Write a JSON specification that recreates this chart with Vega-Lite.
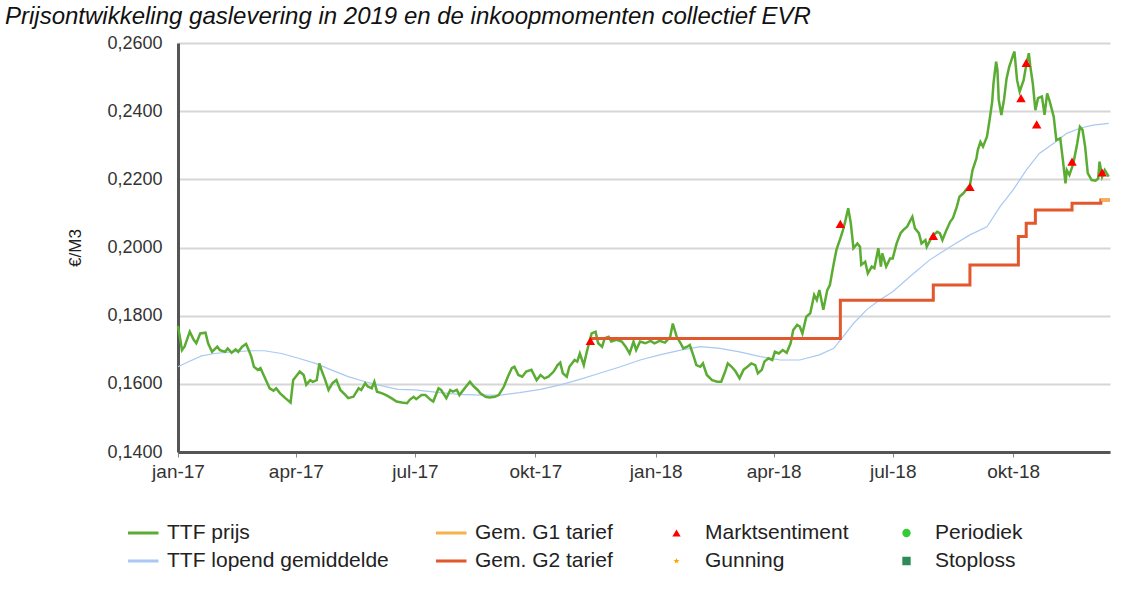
{
"$schema": "https://vega.github.io/schema/vega-lite/v6.json",
"autosize": {"type": "none"},
"padding": {"left": 178, "top": 43, "right": 19, "bottom": 142},
"width": 932,
"height": 409,
"background": "white",
"title": {"text": "Prijsontwikkeling gaslevering in 2019 en de inkoopmomenten collectief EVR", "anchor": "start", "frame": "group", "dx": -173, "dy": 26, "offset": 12, "baseline": "alphabetic", "font": "Liberation Sans", "fontSize": 24, "fontStyle": "italic", "fontWeight": "normal", "color": "#111"},
"config": {"view": {"stroke": null}, "font": "Liberation Sans"},
"data": {"values": [
{"series":"TTF prijs","date":"2017-01-01","value":0.1770},
{"series":"TTF prijs","date":"2017-01-03","value":0.1724},
{"series":"TTF prijs","date":"2017-01-04","value":0.1699},
{"series":"TTF prijs","date":"2017-01-06","value":0.1709},
{"series":"TTF prijs","date":"2017-01-10","value":0.1753},
{"series":"TTF prijs","date":"2017-01-13","value":0.1729},
{"series":"TTF prijs","date":"2017-01-15","value":0.1719},
{"series":"TTF prijs","date":"2017-01-18","value":0.1748},
{"series":"TTF prijs","date":"2017-01-22","value":0.1750},
{"series":"TTF prijs","date":"2017-01-24","value":0.1719},
{"series":"TTF prijs","date":"2017-01-27","value":0.1694},
{"series":"TTF prijs","date":"2017-01-31","value":0.1709},
{"series":"TTF prijs","date":"2017-02-02","value":0.1699},
{"series":"TTF prijs","date":"2017-02-06","value":0.1694},
{"series":"TTF prijs","date":"2017-02-08","value":0.1704},
{"series":"TTF prijs","date":"2017-02-11","value":0.1691},
{"series":"TTF prijs","date":"2017-02-14","value":0.1701},
{"series":"TTF prijs","date":"2017-02-16","value":0.1694},
{"series":"TTF prijs","date":"2017-02-19","value":0.1709},
{"series":"TTF prijs","date":"2017-02-22","value":0.1717},
{"series":"TTF prijs","date":"2017-02-24","value":0.1699},
{"series":"TTF prijs","date":"2017-02-26","value":0.1680},
{"series":"TTF prijs","date":"2017-02-28","value":0.1650},
{"series":"TTF prijs","date":"2017-03-03","value":0.1641},
{"series":"TTF prijs","date":"2017-03-05","value":0.1646},
{"series":"TTF prijs","date":"2017-03-08","value":0.1621},
{"series":"TTF prijs","date":"2017-03-12","value":0.1587},
{"series":"TTF prijs","date":"2017-03-15","value":0.1580},
{"series":"TTF prijs","date":"2017-03-17","value":0.1587},
{"series":"TTF prijs","date":"2017-03-20","value":0.1572},
{"series":"TTF prijs","date":"2017-03-24","value":0.1558},
{"series":"TTF prijs","date":"2017-03-28","value":0.1545},
{"series":"TTF prijs","date":"2017-03-30","value":0.1611},
{"series":"TTF prijs","date":"2017-04-02","value":0.1626},
{"series":"TTF prijs","date":"2017-04-04","value":0.1636},
{"series":"TTF prijs","date":"2017-04-07","value":0.1626},
{"series":"TTF prijs","date":"2017-04-09","value":0.1597},
{"series":"TTF prijs","date":"2017-04-12","value":0.1611},
{"series":"TTF prijs","date":"2017-04-14","value":0.1606},
{"series":"TTF prijs","date":"2017-04-17","value":0.1611},
{"series":"TTF prijs","date":"2017-04-19","value":0.1660},
{"series":"TTF prijs","date":"2017-04-21","value":0.1636},
{"series":"TTF prijs","date":"2017-04-23","value":0.1616},
{"series":"TTF prijs","date":"2017-04-26","value":0.1582},
{"series":"TTF prijs","date":"2017-04-29","value":0.1602},
{"series":"TTF prijs","date":"2017-05-02","value":0.1611},
{"series":"TTF prijs","date":"2017-05-05","value":0.1582},
{"series":"TTF prijs","date":"2017-05-09","value":0.1567},
{"series":"TTF prijs","date":"2017-05-11","value":0.1558},
{"series":"TTF prijs","date":"2017-05-15","value":0.1562},
{"series":"TTF prijs","date":"2017-05-19","value":0.1587},
{"series":"TTF prijs","date":"2017-05-21","value":0.1582},
{"series":"TTF prijs","date":"2017-05-24","value":0.1602},
{"series":"TTF prijs","date":"2017-05-26","value":0.1592},
{"series":"TTF prijs","date":"2017-05-29","value":0.1587},
{"series":"TTF prijs","date":"2017-05-31","value":0.1606},
{"series":"TTF prijs","date":"2017-06-02","value":0.1577},
{"series":"TTF prijs","date":"2017-06-06","value":0.1572},
{"series":"TTF prijs","date":"2017-06-09","value":0.1567},
{"series":"TTF prijs","date":"2017-06-13","value":0.1558},
{"series":"TTF prijs","date":"2017-06-17","value":0.1548},
{"series":"TTF prijs","date":"2017-06-21","value":0.1545},
{"series":"TTF prijs","date":"2017-06-25","value":0.1543},
{"series":"TTF prijs","date":"2017-06-27","value":0.1553},
{"series":"TTF prijs","date":"2017-06-30","value":0.1562},
{"series":"TTF prijs","date":"2017-07-02","value":0.1555},
{"series":"TTF prijs","date":"2017-07-06","value":0.1567},
{"series":"TTF prijs","date":"2017-07-09","value":0.1567},
{"series":"TTF prijs","date":"2017-07-13","value":0.1553},
{"series":"TTF prijs","date":"2017-07-15","value":0.1548},
{"series":"TTF prijs","date":"2017-07-19","value":0.1587},
{"series":"TTF prijs","date":"2017-07-21","value":0.1582},
{"series":"TTF prijs","date":"2017-07-25","value":0.1558},
{"series":"TTF prijs","date":"2017-07-28","value":0.1582},
{"series":"TTF prijs","date":"2017-07-30","value":0.1577},
{"series":"TTF prijs","date":"2017-08-02","value":0.1582},
{"series":"TTF prijs","date":"2017-08-04","value":0.1567},
{"series":"TTF prijs","date":"2017-08-08","value":0.1587},
{"series":"TTF prijs","date":"2017-08-12","value":0.1606},
{"series":"TTF prijs","date":"2017-08-15","value":0.1592},
{"series":"TTF prijs","date":"2017-08-18","value":0.1582},
{"series":"TTF prijs","date":"2017-08-20","value":0.1572},
{"series":"TTF prijs","date":"2017-08-24","value":0.1562},
{"series":"TTF prijs","date":"2017-08-27","value":0.1560},
{"series":"TTF prijs","date":"2017-08-31","value":0.1562},
{"series":"TTF prijs","date":"2017-09-03","value":0.1567},
{"series":"TTF prijs","date":"2017-09-07","value":0.1592},
{"series":"TTF prijs","date":"2017-09-10","value":0.1621},
{"series":"TTF prijs","date":"2017-09-13","value":0.1646},
{"series":"TTF prijs","date":"2017-09-15","value":0.1650},
{"series":"TTF prijs","date":"2017-09-18","value":0.1626},
{"series":"TTF prijs","date":"2017-09-21","value":0.1621},
{"series":"TTF prijs","date":"2017-09-24","value":0.1636},
{"series":"TTF prijs","date":"2017-09-28","value":0.1641},
{"series":"TTF prijs","date":"2017-10-02","value":0.1611},
{"series":"TTF prijs","date":"2017-10-05","value":0.1626},
{"series":"TTF prijs","date":"2017-10-08","value":0.1616},
{"series":"TTF prijs","date":"2017-10-11","value":0.1621},
{"series":"TTF prijs","date":"2017-10-15","value":0.1636},
{"series":"TTF prijs","date":"2017-10-18","value":0.1655},
{"series":"TTF prijs","date":"2017-10-20","value":0.1662},
{"series":"TTF prijs","date":"2017-10-22","value":0.1631},
{"series":"TTF prijs","date":"2017-10-25","value":0.1621},
{"series":"TTF prijs","date":"2017-10-27","value":0.1650},
{"series":"TTF prijs","date":"2017-10-31","value":0.1670},
{"series":"TTF prijs","date":"2017-11-02","value":0.1665},
{"series":"TTF prijs","date":"2017-11-04","value":0.1689},
{"series":"TTF prijs","date":"2017-11-07","value":0.1655},
{"series":"TTF prijs","date":"2017-11-09","value":0.1689},
{"series":"TTF prijs","date":"2017-11-11","value":0.1719},
{"series":"TTF prijs","date":"2017-11-13","value":0.1748},
{"series":"TTF prijs","date":"2017-11-16","value":0.1753},
{"series":"TTF prijs","date":"2017-11-18","value":0.1719},
{"series":"TTF prijs","date":"2017-11-21","value":0.1709},
{"series":"TTF prijs","date":"2017-11-23","value":0.1734},
{"series":"TTF prijs","date":"2017-11-26","value":0.1738},
{"series":"TTF prijs","date":"2017-11-28","value":0.1724},
{"series":"TTF prijs","date":"2017-12-02","value":0.1729},
{"series":"TTF prijs","date":"2017-12-06","value":0.1724},
{"series":"TTF prijs","date":"2017-12-09","value":0.1709},
{"series":"TTF prijs","date":"2017-12-12","value":0.1689},
{"series":"TTF prijs","date":"2017-12-15","value":0.1724},
{"series":"TTF prijs","date":"2017-12-17","value":0.1699},
{"series":"TTF prijs","date":"2017-12-20","value":0.1724},
{"series":"TTF prijs","date":"2017-12-24","value":0.1719},
{"series":"TTF prijs","date":"2017-12-28","value":0.1726},
{"series":"TTF prijs","date":"2017-12-31","value":0.1719},
{"series":"TTF prijs","date":"2018-01-04","value":0.1726},
{"series":"TTF prijs","date":"2018-01-08","value":0.1721},
{"series":"TTF prijs","date":"2018-01-12","value":0.1738},
{"series":"TTF prijs","date":"2018-01-14","value":0.1777},
{"series":"TTF prijs","date":"2018-01-17","value":0.1738},
{"series":"TTF prijs","date":"2018-01-20","value":0.1719},
{"series":"TTF prijs","date":"2018-01-22","value":0.1704},
{"series":"TTF prijs","date":"2018-01-25","value":0.1709},
{"series":"TTF prijs","date":"2018-01-27","value":0.1714},
{"series":"TTF prijs","date":"2018-01-30","value":0.1680},
{"series":"TTF prijs","date":"2018-02-01","value":0.1655},
{"series":"TTF prijs","date":"2018-02-04","value":0.1650},
{"series":"TTF prijs","date":"2018-02-06","value":0.1660},
{"series":"TTF prijs","date":"2018-02-09","value":0.1626},
{"series":"TTF prijs","date":"2018-02-13","value":0.1611},
{"series":"TTF prijs","date":"2018-02-17","value":0.1606},
{"series":"TTF prijs","date":"2018-02-20","value":0.1606},
{"series":"TTF prijs","date":"2018-02-23","value":0.1636},
{"series":"TTF prijs","date":"2018-02-25","value":0.1660},
{"series":"TTF prijs","date":"2018-02-28","value":0.1650},
{"series":"TTF prijs","date":"2018-03-03","value":0.1636},
{"series":"TTF prijs","date":"2018-03-06","value":0.1616},
{"series":"TTF prijs","date":"2018-03-09","value":0.1641},
{"series":"TTF prijs","date":"2018-03-12","value":0.1650},
{"series":"TTF prijs","date":"2018-03-15","value":0.1660},
{"series":"TTF prijs","date":"2018-03-18","value":0.1655},
{"series":"TTF prijs","date":"2018-03-20","value":0.1631},
{"series":"TTF prijs","date":"2018-03-23","value":0.1641},
{"series":"TTF prijs","date":"2018-03-25","value":0.1665},
{"series":"TTF prijs","date":"2018-03-28","value":0.1675},
{"series":"TTF prijs","date":"2018-03-31","value":0.1670},
{"series":"TTF prijs","date":"2018-04-02","value":0.1694},
{"series":"TTF prijs","date":"2018-04-05","value":0.1689},
{"series":"TTF prijs","date":"2018-04-08","value":0.1699},
{"series":"TTF prijs","date":"2018-04-11","value":0.1691},
{"series":"TTF prijs","date":"2018-04-14","value":0.1719},
{"series":"TTF prijs","date":"2018-04-16","value":0.1758},
{"series":"TTF prijs","date":"2018-04-19","value":0.1773},
{"series":"TTF prijs","date":"2018-04-21","value":0.1768},
{"series":"TTF prijs","date":"2018-04-23","value":0.1748},
{"series":"TTF prijs","date":"2018-04-26","value":0.1797},
{"series":"TTF prijs","date":"2018-04-29","value":0.1807},
{"series":"TTF prijs","date":"2018-05-02","value":0.1861},
{"series":"TTF prijs","date":"2018-05-04","value":0.1846},
{"series":"TTF prijs","date":"2018-05-06","value":0.1875},
{"series":"TTF prijs","date":"2018-05-09","value":0.1817},
{"series":"TTF prijs","date":"2018-05-12","value":0.1875},
{"series":"TTF prijs","date":"2018-05-14","value":0.1890},
{"series":"TTF prijs","date":"2018-05-17","value":0.1954},
{"series":"TTF prijs","date":"2018-05-19","value":0.1993},
{"series":"TTF prijs","date":"2018-05-22","value":0.2027},
{"series":"TTF prijs","date":"2018-05-24","value":0.2051},
{"series":"TTF prijs","date":"2018-05-26","value":0.2081},
{"series":"TTF prijs","date":"2018-05-28","value":0.2115},
{"series":"TTF prijs","date":"2018-05-30","value":0.2071},
{"series":"TTF prijs","date":"2018-06-01","value":0.1998},
{"series":"TTF prijs","date":"2018-06-04","value":0.2012},
{"series":"TTF prijs","date":"2018-06-06","value":0.2002},
{"series":"TTF prijs","date":"2018-06-07","value":0.1949},
{"series":"TTF prijs","date":"2018-06-10","value":0.1958},
{"series":"TTF prijs","date":"2018-06-12","value":0.1924},
{"series":"TTF prijs","date":"2018-06-15","value":0.1944},
{"series":"TTF prijs","date":"2018-06-17","value":0.1939},
{"series":"TTF prijs","date":"2018-06-20","value":0.1998},
{"series":"TTF prijs","date":"2018-06-22","value":0.1944},
{"series":"TTF prijs","date":"2018-06-23","value":0.1983},
{"series":"TTF prijs","date":"2018-06-26","value":0.1944},
{"series":"TTF prijs","date":"2018-06-29","value":0.1968},
{"series":"TTF prijs","date":"2018-07-01","value":0.1968},
{"series":"TTF prijs","date":"2018-07-04","value":0.2012},
{"series":"TTF prijs","date":"2018-07-07","value":0.2042},
{"series":"TTF prijs","date":"2018-07-09","value":0.2051},
{"series":"TTF prijs","date":"2018-07-12","value":0.2061},
{"series":"TTF prijs","date":"2018-07-14","value":0.2076},
{"series":"TTF prijs","date":"2018-07-16","value":0.2090},
{"series":"TTF prijs","date":"2018-07-18","value":0.2056},
{"series":"TTF prijs","date":"2018-07-21","value":0.2042},
{"series":"TTF prijs","date":"2018-07-23","value":0.2012},
{"series":"TTF prijs","date":"2018-07-26","value":0.2022},
{"series":"TTF prijs","date":"2018-07-27","value":0.2002},
{"series":"TTF prijs","date":"2018-07-31","value":0.2032},
{"series":"TTF prijs","date":"2018-08-04","value":0.2046},
{"series":"TTF prijs","date":"2018-08-06","value":0.2042},
{"series":"TTF prijs","date":"2018-08-08","value":0.2022},
{"series":"TTF prijs","date":"2018-08-11","value":0.2051},
{"series":"TTF prijs","date":"2018-08-14","value":0.2076},
{"series":"TTF prijs","date":"2018-08-16","value":0.2086},
{"series":"TTF prijs","date":"2018-08-19","value":0.2120},
{"series":"TTF prijs","date":"2018-08-21","value":0.2149},
{"series":"TTF prijs","date":"2018-08-24","value":0.2159},
{"series":"TTF prijs","date":"2018-08-26","value":0.2169},
{"series":"TTF prijs","date":"2018-08-29","value":0.2183},
{"series":"TTF prijs","date":"2018-08-31","value":0.2227},
{"series":"TTF prijs","date":"2018-09-03","value":0.2262},
{"series":"TTF prijs","date":"2018-09-04","value":0.2286},
{"series":"TTF prijs","date":"2018-09-06","value":0.2310},
{"series":"TTF prijs","date":"2018-09-08","value":0.2296},
{"series":"TTF prijs","date":"2018-09-11","value":0.2325},
{"series":"TTF prijs","date":"2018-09-13","value":0.2374},
{"series":"TTF prijs","date":"2018-09-15","value":0.2428},
{"series":"TTF prijs","date":"2018-09-16","value":0.2482},
{"series":"TTF prijs","date":"2018-09-18","value":0.2545},
{"series":"TTF prijs","date":"2018-09-19","value":0.2521},
{"series":"TTF prijs","date":"2018-09-20","value":0.2433},
{"series":"TTF prijs","date":"2018-09-22","value":0.2389},
{"series":"TTF prijs","date":"2018-09-24","value":0.2433},
{"series":"TTF prijs","date":"2018-09-26","value":0.2496},
{"series":"TTF prijs","date":"2018-09-28","value":0.2530},
{"series":"TTF prijs","date":"2018-10-01","value":0.2565},
{"series":"TTF prijs","date":"2018-10-02","value":0.2575},
{"series":"TTF prijs","date":"2018-10-04","value":0.2491},
{"series":"TTF prijs","date":"2018-10-06","value":0.2457},
{"series":"TTF prijs","date":"2018-10-09","value":0.2491},
{"series":"TTF prijs","date":"2018-10-11","value":0.2535},
{"series":"TTF prijs","date":"2018-10-13","value":0.2570},
{"series":"TTF prijs","date":"2018-10-14","value":0.2535},
{"series":"TTF prijs","date":"2018-10-16","value":0.2482},
{"series":"TTF prijs","date":"2018-10-18","value":0.2403},
{"series":"TTF prijs","date":"2018-10-20","value":0.2438},
{"series":"TTF prijs","date":"2018-10-23","value":0.2443},
{"series":"TTF prijs","date":"2018-10-25","value":0.2389},
{"series":"TTF prijs","date":"2018-10-27","value":0.2452},
{"series":"TTF prijs","date":"2018-10-29","value":0.2428},
{"series":"TTF prijs","date":"2018-11-01","value":0.2384},
{"series":"TTF prijs","date":"2018-11-03","value":0.2315},
{"series":"TTF prijs","date":"2018-11-06","value":0.2320},
{"series":"TTF prijs","date":"2018-11-08","value":0.2257},
{"series":"TTF prijs","date":"2018-11-10","value":0.2188},
{"series":"TTF prijs","date":"2018-11-11","value":0.2227},
{"series":"TTF prijs","date":"2018-11-13","value":0.2213},
{"series":"TTF prijs","date":"2018-11-16","value":0.2247},
{"series":"TTF prijs","date":"2018-11-19","value":0.2306},
{"series":"TTF prijs","date":"2018-11-21","value":0.2354},
{"series":"TTF prijs","date":"2018-11-23","value":0.2345},
{"series":"TTF prijs","date":"2018-11-25","value":0.2296},
{"series":"TTF prijs","date":"2018-11-27","value":0.2218},
{"series":"TTF prijs","date":"2018-11-30","value":0.2198},
{"series":"TTF prijs","date":"2018-12-03","value":0.2196},
{"series":"TTF prijs","date":"2018-12-05","value":0.2203},
{"series":"TTF prijs","date":"2018-12-06","value":0.2252},
{"series":"TTF prijs","date":"2018-12-08","value":0.2208},
{"series":"TTF prijs","date":"2018-12-10","value":0.2227},
{"series":"TTF prijs","date":"2018-12-13","value":0.2208},
{"series":"TTF lopend gemiddelde","date":"2017-01-01","value":0.1650},
{"series":"TTF lopend gemiddelde","date":"2017-01-09","value":0.1665},
{"series":"TTF lopend gemiddelde","date":"2017-01-19","value":0.1682},
{"series":"TTF lopend gemiddelde","date":"2017-01-29","value":0.1689},
{"series":"TTF lopend gemiddelde","date":"2017-02-11","value":0.1694},
{"series":"TTF lopend gemiddelde","date":"2017-02-26","value":0.1697},
{"series":"TTF lopend gemiddelde","date":"2017-03-08","value":0.1697},
{"series":"TTF lopend gemiddelde","date":"2017-03-21","value":0.1689},
{"series":"TTF lopend gemiddelde","date":"2017-04-03","value":0.1675},
{"series":"TTF lopend gemiddelde","date":"2017-04-16","value":0.1660},
{"series":"TTF lopend gemiddelde","date":"2017-04-28","value":0.1641},
{"series":"TTF lopend gemiddelde","date":"2017-05-11","value":0.1621},
{"series":"TTF lopend gemiddelde","date":"2017-05-24","value":0.1606},
{"series":"TTF lopend gemiddelde","date":"2017-06-06","value":0.1594},
{"series":"TTF lopend gemiddelde","date":"2017-06-18","value":0.1584},
{"series":"TTF lopend gemiddelde","date":"2017-07-01","value":0.1582},
{"series":"TTF lopend gemiddelde","date":"2017-07-20","value":0.1574},
{"series":"TTF lopend gemiddelde","date":"2017-08-04","value":0.1569},
{"series":"TTF lopend gemiddelde","date":"2017-08-20","value":0.1567},
{"series":"TTF lopend gemiddelde","date":"2017-09-04","value":0.1567},
{"series":"TTF lopend gemiddelde","date":"2017-09-19","value":0.1574},
{"series":"TTF lopend gemiddelde","date":"2017-10-05","value":0.1584},
{"series":"TTF lopend gemiddelde","date":"2017-10-20","value":0.1597},
{"series":"TTF lopend gemiddelde","date":"2017-11-04","value":0.1613},
{"series":"TTF lopend gemiddelde","date":"2017-11-19","value":0.1631},
{"series":"TTF lopend gemiddelde","date":"2017-12-05","value":0.1650},
{"series":"TTF lopend gemiddelde","date":"2017-12-20","value":0.1670},
{"series":"TTF lopend gemiddelde","date":"2018-01-04","value":0.1685},
{"series":"TTF lopend gemiddelde","date":"2018-01-20","value":0.1699},
{"series":"TTF lopend gemiddelde","date":"2018-02-04","value":0.1709},
{"series":"TTF lopend gemiddelde","date":"2018-02-19","value":0.1704},
{"series":"TTF lopend gemiddelde","date":"2018-03-06","value":0.1694},
{"series":"TTF lopend gemiddelde","date":"2018-03-22","value":0.1680},
{"series":"TTF lopend gemiddelde","date":"2018-04-06","value":0.1670},
{"series":"TTF lopend gemiddelde","date":"2018-04-21","value":0.1670},
{"series":"TTF lopend gemiddelde","date":"2018-05-06","value":0.1685},
{"series":"TTF lopend gemiddelde","date":"2018-05-17","value":0.1704},
{"series":"TTF lopend gemiddelde","date":"2018-05-24","value":0.1738},
{"series":"TTF lopend gemiddelde","date":"2018-06-01","value":0.1777},
{"series":"TTF lopend gemiddelde","date":"2018-06-11","value":0.1817},
{"series":"TTF lopend gemiddelde","date":"2018-06-21","value":0.1846},
{"series":"TTF lopend gemiddelde","date":"2018-07-01","value":0.1870},
{"series":"TTF lopend gemiddelde","date":"2018-07-14","value":0.1914},
{"series":"TTF lopend gemiddelde","date":"2018-07-29","value":0.1963},
{"series":"TTF lopend gemiddelde","date":"2018-08-14","value":0.2002},
{"series":"TTF lopend gemiddelde","date":"2018-08-29","value":0.2037},
{"series":"TTF lopend gemiddelde","date":"2018-09-11","value":0.2061},
{"series":"TTF lopend gemiddelde","date":"2018-09-21","value":0.2120},
{"series":"TTF lopend gemiddelde","date":"2018-10-01","value":0.2169},
{"series":"TTF lopend gemiddelde","date":"2018-10-11","value":0.2227},
{"series":"TTF lopend gemiddelde","date":"2018-10-21","value":0.2276},
{"series":"TTF lopend gemiddelde","date":"2018-11-01","value":0.2306},
{"series":"TTF lopend gemiddelde","date":"2018-11-11","value":0.2335},
{"series":"TTF lopend gemiddelde","date":"2018-11-21","value":0.2350},
{"series":"TTF lopend gemiddelde","date":"2018-12-01","value":0.2359},
{"series":"TTF lopend gemiddelde","date":"2018-12-13","value":0.2364},
{"series":"Gem. G2  tarief","date":"2017-11-12","value":0.1733},
{"series":"Gem. G2  tarief","date":"2018-05-22","value":0.1845},
{"series":"Gem. G2  tarief","date":"2018-08-01","value":0.1890},
{"series":"Gem. G2  tarief","date":"2018-08-29","value":0.1949},
{"series":"Gem. G2  tarief","date":"2018-10-05","value":0.2032},
{"series":"Gem. G2  tarief","date":"2018-10-11","value":0.2071},
{"series":"Gem. G2  tarief","date":"2018-10-18","value":0.2110},
{"series":"Gem. G2  tarief","date":"2018-11-15","value":0.2130},
{"series":"Gem. G2  tarief","date":"2018-12-07","value":0.2139},
{"series":"Gem. G2  tarief","date":"2018-12-14","value":0.2139},
{"series":"Gem. G1 tarief","date":"2018-12-07","value":0.2140},
{"series":"Gem. G1 tarief","date":"2018-12-14","value":0.2140},
{"series":"Marktsentiment","date":"2017-11-12","value":0.1726},
{"series":"Marktsentiment","date":"2018-05-22","value":0.2069},
{"series":"Marktsentiment","date":"2018-08-01","value":0.2034},
{"series":"Marktsentiment","date":"2018-08-29","value":0.2178},
{"series":"Marktsentiment","date":"2018-10-07","value":0.2438},
{"series":"Marktsentiment","date":"2018-10-11","value":0.2542},
{"series":"Marktsentiment","date":"2018-10-19","value":0.2361},
{"series":"Marktsentiment","date":"2018-11-15","value":0.2252},
{"series":"Marktsentiment","date":"2018-12-08","value":0.2220}
]},
"encoding": {
"x": {"field": "date", "type": "temporal",
 "scale": {"domain": [{"year": 2017, "month": 1, "date": 1}, {"year": 2018, "month": 12, "date": 14}]},
 "axis": {"title": null, "tickCount": {"interval": "month", "step": 3},
  "labelExpr": "['jan','feb','mrt','apr','mei','jun','jul','aug','sep','okt','nov','dec'][month(datum.value)] + '-' + timeFormat(datum.value, '%y')",
  "labelFont": "Liberation Sans", "labelFontSize": 19, "labelColor": "#333", "labelPadding": 5,
  "tickSize": 5, "tickColor": "#888", "tickWidth": 1, "domainColor": "#555", "domainWidth": 3,
  "grid": false, "labelFlush": false, "labelOverlap": false}},
"y": {"field": "value", "type": "quantitative",
 "scale": {"domain": [0.14, 0.26], "nice": false, "zero": false},
 "axis": {"values": [0.14, 0.16, 0.18, 0.2, 0.22, 0.24, 0.26],
  "labelExpr": "replace(format(datum.value, '.4f'), '.', ',')",
  "title": "€/M3", "titleFont": "Liberation Sans", "titleFontSize": 17, "titleFontWeight": "normal", "titleColor": "#222", "titlePadding": 22,
  "labelFont": "Liberation Sans", "labelFontSize": 18, "labelColor": "#333", "labelPadding": 16,
  "ticks": false, "domainColor": "#555", "domainWidth": 3,
  "grid": true, "gridColor": "#d6d6d6", "gridWidth": 2}},
"color": {"field": "series", "type": "nominal",
 "scale": {"domain": ["TTF prijs", "TTF lopend gemiddelde", "Gem. G1 tarief", "Gem. G2  tarief", "Marktsentiment", "Gunning", "Periodiek", "Stoploss"],
  "range": ["#5aac32", "#a9c9f2", "#f8b04c", "#e2572b", "#ff0000", "#ffa500", "#33cc33", "#2e8b57"]},
 "legend": {"title": null, "orient": "none", "legendX": -50, "legendY": 480, "columns": 4, "columnPadding": 47, "rowPadding": 7,
  "clipHeight": 20, "symbolSize": 1600, "symbolType": "stroke", "symbolStrokeWidth": 3,
  "labelFont": "Liberation Sans", "labelFontSize": 21, "labelColor": "#222", "labelOffset": 18, "labelLimit": 400,
  "encode": {"symbols": {"update": {
   "shape": {"signal": "datum.value === 'Marktsentiment' ? 'triangle-up' : datum.value === 'Gunning' ? 'M0,-1L0.24,-0.33L0.95,-0.31L0.38,0.12L0.59,0.81L0,0.4L-0.59,0.81L-0.38,0.12L-0.95,-0.31L-0.24,-0.33Z' : datum.value === 'Periodiek' ? 'circle' : datum.value === 'Stoploss' ? 'square' : 'stroke'"},
   "size": {"signal": "indexof(['Marktsentiment','Periodiek','Stoploss'], datum.value) >= 0 ? 70 : datum.value === 'Gunning' ? 40 : 1600"},
   "fill": {"scale": "color", "field": "value"},
   "stroke": {"scale": "color", "field": "value"},
   "strokeWidth": {"signal": "indexof(['Marktsentiment','Gunning','Periodiek','Stoploss'], datum.value) >= 0 ? 0 : 3"},
   "opacity": {"value": 1}}}}}}
},
"layer": [
 {"transform": [{"filter": "datum.series === 'TTF lopend gemiddelde'"}], "mark": {"type": "line", "strokeWidth": 1.2}},
 {"transform": [{"filter": "datum.series === 'TTF prijs'"}], "mark": {"type": "line", "strokeWidth": 2.5}},
 {"transform": [{"filter": "datum.series === 'Gem. G2  tarief'"}], "mark": {"type": "line", "strokeWidth": 3, "interpolate": "step-after"}},
 {"transform": [{"filter": "datum.series === 'Gem. G1 tarief'"}], "mark": {"type": "line", "strokeWidth": 3, "interpolate": "step-after"}},
 {"transform": [{"filter": "datum.series === 'Marktsentiment'"}], "mark": {"type": "point", "shape": "triangle-up", "filled": true, "size": 90, "opacity": 1}}
]
}
